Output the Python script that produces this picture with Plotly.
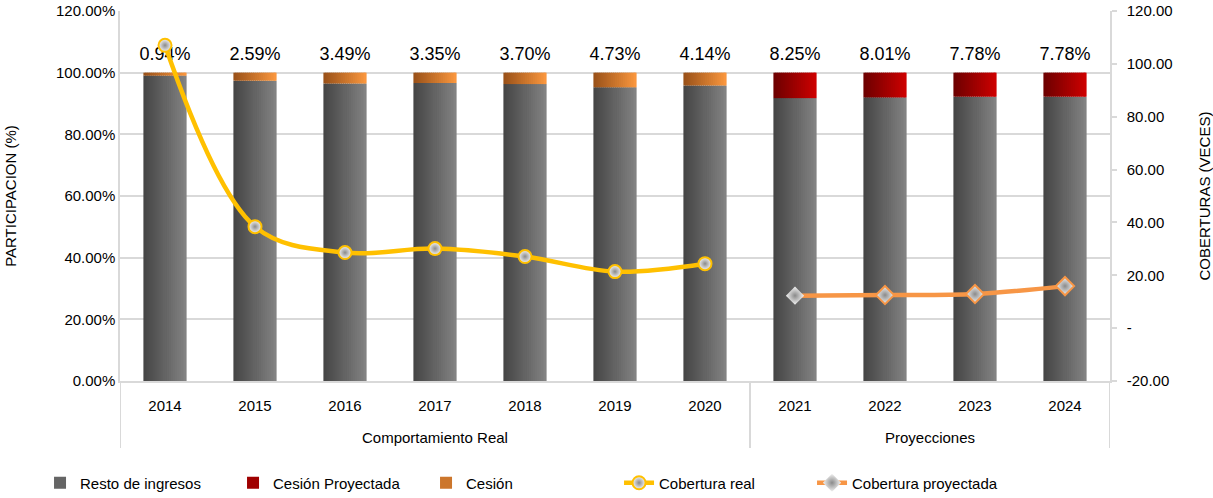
import plotly.graph_objects as go

# ---------------- data ----------------
years = ["2014", "2015", "2016", "2017", "2018", "2019", "2020", "2021", "2022", "2023", "2024"]
groups = ["Comportamiento Real"] * 7 + ["Proyecciones"] * 4
cesion_real = [0.94, 2.59, 3.49, 3.35, 3.70, 4.73, 4.14]
cesion_proy = [8.25, 8.01, 7.78, 7.78]
cobertura_real = [107.0, 38.4, 28.6, 30.1, 27.1, 21.4, 24.4]
cobertura_proy = [12.3, 12.5, 12.9, 15.9]
left_ticks = [0, 20, 40, 60, 80, 100, 120]
left_ticktext = ["0.00%", "20.00%", "40.00%", "60.00%", "80.00%", "100.00%", "120.00%"]
right_tickvals = [-20, 0, 20, 40, 60, 80, 100, 120]
right_ticktext = ["-20.00", "-", "20.00", "40.00", "60.00", "80.00", "100.00", "120.00"]

# derived
cesion_all = cesion_real + cesion_proy
resto = [round(100 - c, 2) for c in cesion_all]
total = [r + c for r, c in zip(resto, cesion_all)]
n_real = len(cesion_real)
years_real = years[:n_real]
years_proy = years[n_real:]

FONT = "Liberation Sans, Arial, sans-serif"


def lerp(c1, c2, t):
    a = [int(c1[i:i + 2], 16) for i in (1, 3, 5)]
    b = [int(c2[i:i + 2], 16) for i in (1, 3, 5)]
    return "#%02x%02x%02x" % tuple(round(a[k] + (b[k] - a[k]) * t) for k in range(3))


fig = go.Figure()

BAR_W = 0.48
N = 22


def gradient_bars(x, y, base, c_left, c_right, name, rank):
    sw = BAR_W / N
    for i in range(N):
        t = i / (N - 1)
        show = i == N // 2
        fig.add_trace(go.Bar(
            x=x, y=y, base=base,
            offset=-BAR_W / 2 + i * sw, width=sw * (1.5 if i < N - 1 else 1.0),
            marker=dict(color=lerp(c_left, c_right, t), line=dict(width=0)),
            name=name, legendgroup=name, showlegend=show, legendrank=rank,
            hoverinfo="skip",
        ))


gradient_bars(years, resto, None, "#464646", "#828282", "Resto de ingresos", 1)
gradient_bars(years_proy, cesion_proy, resto[n_real:], "#6e0000", "#cc0000", "Cesión Proyectada", 2)
gradient_bars(years_real, cesion_real, resto[:n_real], "#9a5219", "#f9963e", "Cesión", 3)

# data labels above bars
fig.add_trace(go.Scatter(
    x=years, y=total, mode="markers+text",
    text=["%.2f%%" % c for c in cesion_all], textposition="top center",
    textfont=dict(size=18, color="#000000", family=FONT),
    marker=dict(size=12, color="rgba(0,0,0,0)"),
    showlegend=False, hoverinfo="skip", cliponaxis=False,
))

# coverage lines
fig.add_trace(go.Scatter(
    x=years_real, y=cobertura_real, yaxis="y2", mode="lines+markers",
    line=dict(color="#FFC000", width=4.5, shape="spline", smoothing=1.0),
    marker=dict(symbol="circle", size=13, color="#f4f4f4",
                gradient=dict(type="radial", color="#8a8a8a"),
                line=dict(color="#FFC000", width=2)),
    name="Cobertura real", legendrank=4, hoverinfo="skip", cliponaxis=False,
))
fig.add_trace(go.Scatter(
    x=years_proy, y=cobertura_proy, yaxis="y2", mode="lines+markers",
    line=dict(color="#F79646", width=4.5, shape="spline", smoothing=1.0),
    marker=dict(symbol="diamond", size=14, color="#f4f4f4",
                gradient=dict(type="radial", color="#8a8a8a"),
                line=dict(color=["rgba(0,0,0,0)", "#F79646", "#F79646", "#F79646"], width=2)),
    name="Cobertura proyectada", legendrank=5, hoverinfo="skip",
))

# group dividers and group labels (computed from the group list)
PLOT_H = 498 - 11 - 117
div_bottom = -(448 - 381) / PLOT_H
label_y = -(437 - 381) / PLOT_H
bounds = [-0.5]
for i in range(1, len(groups)):
    if groups[i] != groups[i - 1]:
        bounds.append(i - 0.5)
bounds.append(len(groups) - 0.5)
for b in bounds:
    fig.add_shape(type="line", xref="x", yref="paper", x0=b, x1=b, y0=0, y1=div_bottom,
                  line=dict(color="#d9d9d9", width=2), layer="below")
for k in range(len(bounds) - 1):
    start = int(bounds[k] + 0.5)
    fig.add_annotation(x=(bounds[k] + bounds[k + 1]) / 2, y=label_y, xref="x", yref="paper",
                       text=groups[start], showarrow=False, yanchor="middle",
                       font=dict(size=15, color="#000000", family=FONT))

fig.update_layout(
    width=1213, height=498,
    margin=dict(l=120, r=103, t=11, b=117, autoexpand=False),
    paper_bgcolor="white", plot_bgcolor="white",
    font=dict(family=FONT, size=15, color="#000000"),
    barmode="overlay",
    showlegend=True,
    legend=dict(orientation="h", x=0.033, xanchor="left", xref="container",
                y=(498 - 483) / 498, yanchor="middle", yref="container",
                font=dict(size=15), traceorder="normal", entrywidth=148),
    xaxis=dict(type="category", range=[-0.5, len(years) - 0.5], showline=True,
               linecolor="#d9d9d9", linewidth=1.5, ticks="", showgrid=False,
               tickfont=dict(size=15), ticklabelstandoff=10, automargin=False),
    yaxis=dict(range=[0, 120], tickvals=left_ticks, ticktext=left_ticktext,
               showgrid=True, gridcolor="#d9d9d9", gridwidth=1.5, zeroline=False,
               showline=True, linecolor="#d9d9d9", linewidth=1.5, automargin=False,
               title=dict(text="PARTICIPACION (%)", font=dict(size=15), standoff=36),
               tickfont=dict(size=15)),
    yaxis2=dict(range=[-20, 120], overlaying="y", side="right",
                tickvals=right_tickvals, ticktext=right_ticktext, automargin=False,
                showgrid=False, zeroline=False, showline=True, linecolor="#d9d9d9", linewidth=1.5,
                ticks="outside", ticklen=5, tickcolor="#d9d9d9", tickwidth=1.5,
                ticklabelstandoff=7,
                title=dict(text="COBERTURAS (VECES)", font=dict(size=15), standoff=29),
                tickfont=dict(size=15)),
)

fig.write_html("out.html", config={"displayModeBar": False},
               post_script="document.body.style.margin='0';")
